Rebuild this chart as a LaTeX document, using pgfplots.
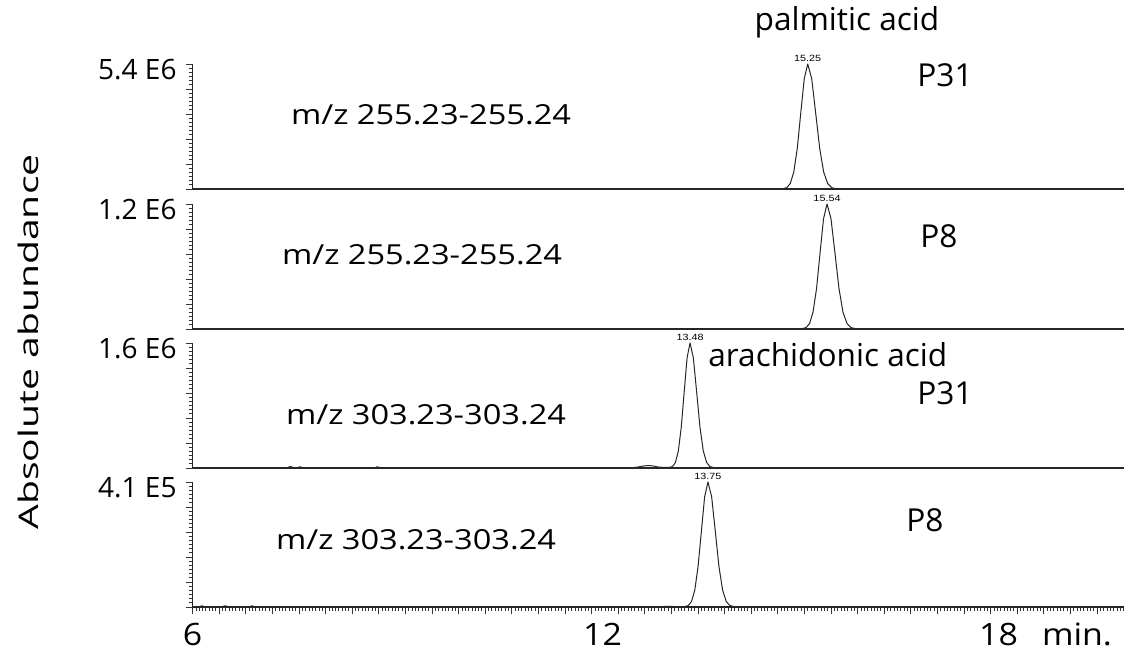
\documentclass[border=0pt]{standalone}
\usepackage{pgfplots}
\pgfplotsset{compat=1.18}
\usepackage{graphicx}
\usepackage{fontspec}
\setmainfont{Open Sans}
\newfontfamily\peakfont{Liberation Sans}

% Stacked extracted-ion chromatograms, intensities normalised to each panel's full scale
\pgfplotsset{
  panel/.style={
    scale only axis, width=465.5pt, height=62.5pt,
    xmin=6, xmax=20, ymin=0, ymax=1, clip=false,
    axis x line*=bottom, axis y line*=left,
    axis line style={-, black!85, line width=0.65pt},
    tick align=outside,
    ytick={0,0.2,0.4,0.6,0.8,1}, minor y tick num=5,
    major tick length=3.5pt, minor tick length=2pt,
    every tick/.style={black!80, line width=0.4pt},
    xtick=\empty,
    yticklabel style={font=\fontsize{14}{16}\selectfont, yshift=-3pt, xshift=-1pt},
  },
  trace/.style={black!85, line width=0.5pt, line join=round},
}

\newcommand{\peaklabel}[1]{{\peakfont\fontsize{4.5}{5}\selectfont\scalebox{1.2}[1]{#1}}}
\newcommand{\mz}[1]{{\fontsize{13.8}{15}\selectfont\scalebox{1.18}[1]{#1}}}
\newcommand{\tag}[1]{{\fontsize{15.8}{18}\selectfont #1}}

\begin{document}
\begin{tikzpicture}
\useasboundingbox (0,0) rectangle (563pt,327.5pt);

% Panel 1: palmitic acid, P31
\begin{axis}[panel, at={(96.3pt,233pt)}, anchor=south west,
  yticklabels={,,,,,5.4 E6}]
\addplot[trace] coordinates {
(6,0) (14.7,0) (14.83,0.0005) (14.883,0.0022) (14.935,0.0111) (14.988,0.0439)
(15.04,0.1353) (15.093,0.3247) (15.145,0.6065) (15.198,0.8825) (15.25,1)
(15.31,0.8825) (15.37,0.6065) (15.43,0.3247) (15.49,0.1353) (15.55,0.0439)
(15.61,0.0111) (15.67,0.0022) (15.72,0.004) (16.1,0.003) (16.15,0) (20,0)};
\node[anchor=south, inner sep=0pt, yshift=1pt] at (axis cs:15.25,1) {\peaklabel{15.25}};
\end{axis}

% Panel 2: palmitic acid, P8
\begin{axis}[panel, at={(96.3pt,163pt)}, anchor=south west,
  yticklabels={,,,,,1.2 E6}]
\addplot[trace] coordinates {
(6,0.004) (6.85,0.004) (6.87,0) (14.95,0) (15.0,0.003) (15.12,0.003)
(15.173,0.004) (15.225,0.0111) (15.278,0.0439) (15.33,0.1353) (15.383,0.3247)
(15.435,0.6065) (15.488,0.8825) (15.54,1) (15.6,0.8825) (15.66,0.6065)
(15.72,0.3247) (15.78,0.1353) (15.84,0.0439) (15.90,0.0111) (15.96,0.004)
(16.01,0.003) (16.5,0.003) (16.55,0) (20,0)};
\node[anchor=south, inner sep=0pt, yshift=1pt] at (axis cs:15.54,1) {\peaklabel{15.54}};
\end{axis}

% Panel 3: arachidonic acid, P31
\begin{axis}[panel, at={(96.3pt,93.5pt)}, anchor=south west,
  yticklabels={,,,,,1.6 E6}]
\addplot[trace] coordinates {
(6,0.004) (7.3,0.003) (7.42,0.003) (7.47,0.012) (7.52,0.003) (7.58,0.003)
(7.62,0.010) (7.66,0.002) (8.74,0.002) (8.78,0.010) (8.82,0.002) (12.6,0.002)
(12.7,0.008) (12.78,0.016) (12.85,0.02) (12.93,0.016) (13.0,0.008) (13.08,0.005)
(13.13,0.005) (13.172,0.006) (13.216,0.0111) (13.26,0.0439) (13.304,0.1353)
(13.348,0.3247) (13.392,0.6065) (13.436,0.8825) (13.48,1) (13.53,0.8825)
(13.58,0.6065) (13.63,0.3247) (13.68,0.1353) (13.73,0.0439) (13.78,0.0111)
(13.83,0.004) (14.13,0.003) (14.16,0) (20,0)};
\node[anchor=south, inner sep=0pt, yshift=1pt] at (axis cs:13.48,1) {\peaklabel{13.48}};
\end{axis}

% Panel 4: arachidonic acid, P8 (carries the time axis)
\begin{axis}[panel, at={(96.3pt,24pt)}, anchor=south west,
  yticklabels={,,,,,4.1 E5},
  xtick={6,12,18},
  xticklabels={\scalebox{1.1}[1]{6},{\hspace{11pt}\scalebox{1.1}[1]{12}},{\hspace{8pt}\scalebox{1.1}[1]{18}}},
  extra x ticks={6.4,6.8,7.2,7.6,8,8.4,8.8,9.2,9.6,10,10.4,10.8,11.2,11.6,12.4,12.8,13.2,13.6,14,14.4,14.8,15.2,15.6,16,16.4,16.8,17.2,17.6,18.4,18.8,19.2,19.6},
  extra x tick labels={},
  minor xtick={6,6.05,...,20},
  xticklabel style={font=\fontsize{15.4}{17}\selectfont, anchor=base, yshift=-15.5pt},
  xlabel={\scalebox{1.1}[1]{min.}},
  xlabel style={font=\fontsize{15.4}{17}\selectfont, at={(rel axis cs:0.95,0)}, anchor=base, yshift=-19pt},
]
\addplot[trace] coordinates {
(6,0.002) (6.1,0.002) (6.14,0.01) (6.18,0.002) (6.44,0.002) (6.49,0.01)
(6.54,0.002) (6.85,0.002) (6.89,0.01) (6.93,0.002) (7.0,0) (13.0,0)
(13.08,0.004) (13.16,0.005) (13.3,0.003) (13.354,0.002) (13.403,0.004)
(13.453,0.0111) (13.502,0.0439) (13.552,0.1353) (13.601,0.3247) (13.651,0.6065)
(13.70,0.8825) (13.75,1) (13.805,0.8825) (13.86,0.6065) (13.915,0.3247)
(13.97,0.1353) (14.025,0.0439) (14.08,0.0111) (14.135,0.004) (14.4,0.003)
(14.45,0) (20,0)};
\node[anchor=south, inner sep=0pt, yshift=1pt] at (axis cs:13.75,1) {\peaklabel{13.75}};
\end{axis}

% Annotations
\node[rotate=90] at (14pt,156.5pt) {\fontsize{13.5}{15}\selectfont\scalebox{1.45}[1]{Absolute abundance}};
\node at (215.5pt,270pt) {\mz{m/z 255.23-255.24}};
\node at (211pt,200pt) {\mz{m/z 255.23-255.24}};
\node at (213pt,120pt) {\mz{m/z 303.23-303.24}};
\node at (208pt,57.5pt) {\mz{m/z 303.23-303.24}};
\node at (423.5pt,316.5pt) {\tag{palmitic acid}};
\node at (472.5pt,290pt) {\tag{P31}};
\node at (469.5pt,209.5pt) {\tag{P8}};
\node[anchor=west, inner sep=0pt] at (354pt,150pt) {\tag{arachidonic acid}};
\node at (472.5pt,131pt) {\tag{P31}};
\node at (462.5pt,67.5pt) {\tag{P8}};
\end{tikzpicture}
\end{document}
